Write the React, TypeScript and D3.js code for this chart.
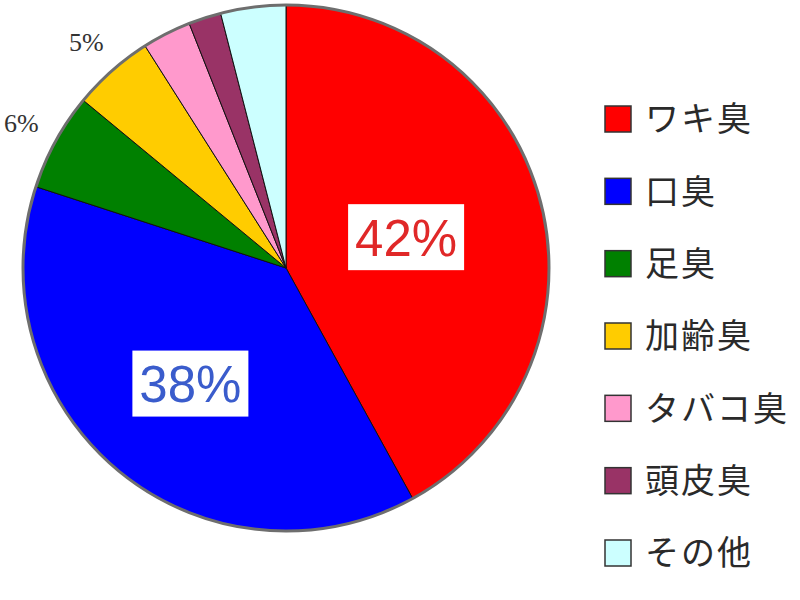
import * as d3 from "d3";

const categories = ["ワキ臭", "口臭", "足臭", "加齢臭", "タバコ臭", "頭皮臭", "その他"];
const values = [42, 38, 6, 5, 3, 2, 4];
const colors = ["#ff0000", "#0000ff", "#008000", "#ffcc00", "#ff99cc", "#993366", "#ccffff"];
// which slices carry a label, and where
const insideLabels = [0, 1];
const outsideLabels = [2, 3];
const insideTextColors: Record<number, string> = { 0: "#e02828", 1: "#3a5ccc" };
const insideRadius: Record<number, number> = { 0: 124, 1: 150 };

const W = 800;
const H = 600;
const cx = 286;
const cy = 268;
const R = 263;

export default function App() {
  const pie = d3
    .pie<number>()
    .sort(null)
    .value((d) => d);
  const slices = pie(values);

  const arc = d3.arc<d3.PieArcDatum<number>>().innerRadius(0).outerRadius(R);
  const outArc = d3.arc<d3.PieArcDatum<number>>().innerRadius(302).outerRadius(302);

  const legendY = d3
    .scalePoint<string>()
    .domain(categories)
    .range([119, 553]);

  return (
    <svg
      width={W}
      height={H}
      style={{ position: "absolute", left: 0, top: 0, background: "#fff" }}
    >
      <g transform={`translate(${cx},${cy})`}>
        {slices.map((s, i) => (
          <path key={i} d={arc(s) || ""} fill={colors[i]} stroke="#111" strokeWidth={1} />
        ))}
        <circle r={R} fill="none" stroke="#6e6e6e" strokeWidth={3} />

        {insideLabels.map((i) => {
          const r = insideRadius[i];
          const [x, y] = d3
            .arc<d3.PieArcDatum<number>>()
            .innerRadius(r)
            .outerRadius(r)
            .centroid(slices[i]);
          return (
            <g key={i} transform={`translate(${x},${y})`}>
              <rect x={-58} y={-33} width={116} height={66} fill="#fff" />
              <text
                textAnchor="middle"
                dy="0.36em"
                fontFamily="'Liberation Sans', Arial, sans-serif"
                fontSize={51}
                fill={insideTextColors[i]}
              >
                {values[i]}%
              </text>
            </g>
          );
        })}

        {outsideLabels.map((i) => {
          const [x, y] = outArc.centroid(slices[i]);
          return (
            <text
              key={i}
              x={x}
              y={y}
              textAnchor="middle"
              dy="0.35em"
              fontFamily="'Liberation Serif', 'Times New Roman', serif"
              fontSize={26}
              fill="#333"
            >
              {values[i]}%
            </text>
          );
        })}
      </g>

      {categories.map((c, i) => {
        const y = legendY(c) || 0;
        return (
          <g key={c} transform={`translate(605,${y})`}>
            <rect x={0} y={-13} width={26} height={26} fill={colors[i]} stroke="#333" strokeWidth={1.5} />
            <text
              x={40}
              dy="0.36em"
              fontFamily="'Noto Sans CJK JP', sans-serif"
              fontSize={34}
              letterSpacing={2}
              fill="#2a2a2a"
            >
              {c}
            </text>
          </g>
        );
      })}
    </svg>
  );
}
